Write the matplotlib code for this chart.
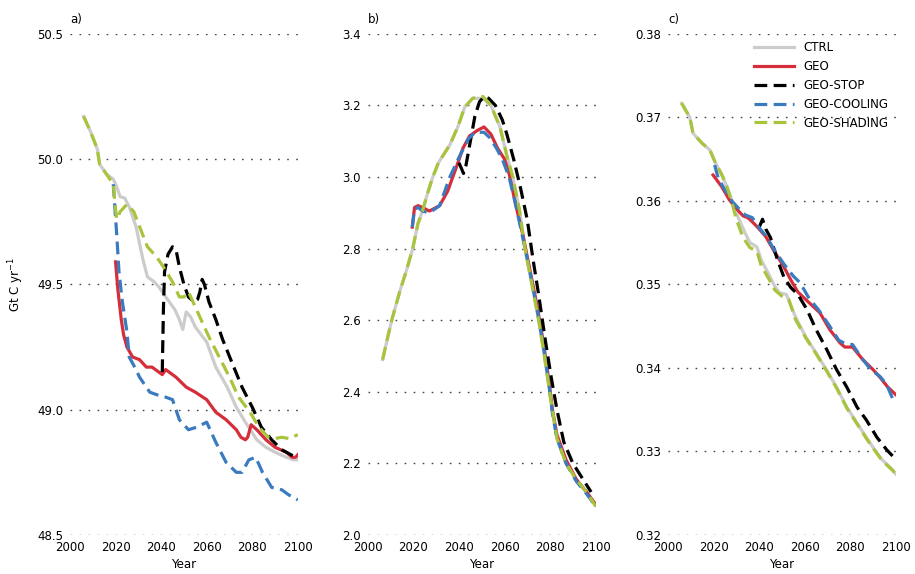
import matplotlib
matplotlib.use('Agg')
import matplotlib.pyplot as plt
import numpy as np

# panel a) values (Gt C / yr)
a_ctrl_yr = [2006, 2009, 2012, 2013, 2016, 2019, 2020.5, 2022, 2024, 2026, 2029, 2032, 2034, 2037, 2039,
             2042, 2046, 2048, 2049.5, 2051, 2053, 2055, 2060, 2064, 2069, 2073, 2077, 2082, 2086, 2090,
             2095, 2098, 2100]
a_ctrl = [50.17, 50.11, 50.04, 49.98, 49.94, 49.92, 49.89, 49.85, 49.845, 49.81, 49.73, 49.60, 49.53, 49.51,
          49.49, 49.45, 49.40, 49.36, 49.32, 49.39, 49.37, 49.33, 49.27, 49.17, 49.09, 49.01, 48.95, 48.88,
          48.85, 48.83, 48.81, 48.80, 48.80]
a_geo_yr = [2020, 2021, 2022.5, 2023.5, 2025, 2027.5, 2030.5, 2033.5, 2036, 2039, 2040.5, 2042, 2046.5, 2051,
            2055, 2060, 2064, 2068.5, 2073, 2075, 2077, 2078, 2079.5, 2082, 2086, 2090, 2095, 2097.5, 2099, 2100]
a_geo = [49.59, 49.48, 49.36, 49.30, 49.25, 49.21, 49.20, 49.17, 49.17, 49.15, 49.14, 49.16, 49.13, 49.09,
         49.07, 49.04, 48.99, 48.96, 48.92, 48.89, 48.88, 48.89, 48.94, 48.92, 48.88, 48.85, 48.83, 48.81,
         48.81, 48.82]
a_stop_yr = [2040.5, 2041, 2041.5, 2043, 2045, 2046.5, 2048, 2050, 2052, 2054.5, 2056, 2057, 2058, 2059, 2061,
             2064, 2067, 2071, 2075.5, 2080, 2084, 2088.5, 2093, 2097, 2099]
a_stop = [49.15, 49.40, 49.55, 49.62, 49.65, 49.64, 49.57, 49.50, 49.45, 49.43, 49.44, 49.47, 49.52, 49.50,
          49.43, 49.36, 49.28, 49.19, 49.09, 49.01, 48.93, 48.88, 48.84, 48.82, 48.81]
a_cool_yr = [2019, 2020.5, 2021.5, 2023, 2025, 2026, 2029, 2030.5, 2035, 2038, 2042, 2045, 2048, 2052, 2055.5,
             2060, 2064, 2068.5, 2073, 2075.5, 2078.5, 2081.5, 2084.5, 2088.5, 2093, 2096, 2100]
a_cool = [49.90, 49.70, 49.55, 49.43, 49.31, 49.21, 49.16, 49.13, 49.07, 49.06, 49.05, 49.04, 48.96, 48.92,
          48.93, 48.95, 48.87, 48.79, 48.75, 48.75, 48.80, 48.81, 48.75, 48.69, 48.68, 48.66, 48.64]
a_shade_yr = [2006, 2009, 2012, 2013, 2016, 2019, 2020, 2020.5, 2022, 2025, 2028, 2031, 2034, 2038, 2041, 2045,
              2048, 2050, 2052, 2054, 2057, 2061, 2065.5, 2070, 2074, 2079, 2083, 2087, 2090, 2093, 2096, 2100]
a_shade = [50.17, 50.11, 50.04, 49.98, 49.94, 49.90, 49.80, 49.76, 49.79, 49.82, 49.79, 49.72, 49.65, 49.61,
           49.57, 49.51, 49.45, 49.45, 49.47, 49.43, 49.37, 49.29, 49.21, 49.13, 49.05, 48.99, 48.93, 48.89,
           48.885, 48.89, 48.885, 48.90]

# panel b)
b_ctrl_yr = [2006.5, 2009, 2010.5, 2014, 2017, 2019.7, 2022, 2024, 2026, 2028.5, 2031, 2033, 2036, 2039.5,
             2042.5, 2046, 2050.5, 2054, 2058, 2061, 2063.6, 2066.5, 2069, 2072, 2075, 2077.5, 2079.8, 2081.5,
             2083, 2087, 2091.5, 2096, 2100]
b_ctrl = [2.49, 2.56, 2.60, 2.68, 2.74, 2.80, 2.87, 2.905, 2.95, 3.00, 3.04, 3.06, 3.09, 3.14, 3.195, 3.22,
          3.22, 3.20, 3.14, 3.06, 3.00, 2.91, 2.80, 2.70, 2.60, 2.50, 2.40, 2.33, 2.27, 2.20, 2.155, 2.12, 2.085]
b_geo_yr = [2019.5, 2020.5, 2022, 2024, 2027, 2031.5, 2035, 2039, 2041.7, 2044.7, 2048, 2051, 2054, 2057, 2060,
            2062, 2065, 2068, 2071, 2074, 2077, 2079.5, 2081, 2083, 2087, 2091.5, 2096, 2100]
b_geo = [2.86, 2.915, 2.92, 2.915, 2.905, 2.92, 2.96, 3.03, 3.08, 3.115, 3.13, 3.14, 3.12, 3.08, 3.05, 3.01,
         2.92, 2.84, 2.745, 2.65, 2.54, 2.43, 2.35, 2.28, 2.21, 2.155, 2.12, 2.085]
b_stop_yr = [2040, 2042, 2043, 2045, 2047, 2049, 2051, 2053, 2056, 2059, 2061, 2064, 2067, 2070, 2072.5, 2075,
             2078, 2080.5, 2083, 2086, 2090, 2095, 2098]
b_stop = [3.04, 3.01, 3.03, 3.10, 3.17, 3.21, 3.225, 3.22, 3.20, 3.16, 3.12, 3.05, 2.97, 2.88, 2.77, 2.67,
          2.54, 2.44, 2.35, 2.26, 2.20, 2.15, 2.12]
b_cool_yr = [2019.5, 2020.5, 2022, 2024, 2027, 2031.5, 2036, 2040.4, 2044, 2047, 2051, 2053.5, 2056.5, 2059,
             2062, 2065, 2068, 2071, 2074, 2077, 2079.5, 2081, 2083, 2087, 2091.5, 2096, 2100]
b_cool = [2.86, 2.91, 2.915, 2.905, 2.90, 2.92, 3.00, 3.06, 3.105, 3.125, 3.125, 3.11, 3.08, 3.05, 3.00, 2.92,
          2.83, 2.74, 2.64, 2.53, 2.42, 2.34, 2.27, 2.20, 2.15, 2.115, 2.08]
b_shade_yr = b_ctrl_yr
b_shade = [2.49, 2.56, 2.60, 2.68, 2.74, 2.80, 2.87, 2.905, 2.95, 3.00, 3.04, 3.06, 3.09, 3.14, 3.195, 3.22,
           3.225, 3.20, 3.14, 3.06, 3.00, 2.91, 2.80, 2.70, 2.60, 2.50, 2.40, 2.33, 2.27, 2.20, 2.155, 2.12, 2.08]

# panel c)
c_ctrl_yr = [2006, 2009.6, 2011, 2015, 2018.4, 2020.6, 2023.7, 2025.9, 2028, 2030.7, 2033.8, 2036, 2039, 2041,
             2043.9, 2047, 2049, 2052, 2056, 2060.5, 2065, 2069.5, 2074, 2078.5, 2083, 2087, 2090, 2094,
             2098.7, 2100]
c_ctrl = [0.3717, 0.3700, 0.3681, 0.3669, 0.3661, 0.3647, 0.3631, 0.3617, 0.3601, 0.3581, 0.3562, 0.3550,
          0.3545, 0.3529, 0.3514, 0.3497, 0.3490, 0.3488, 0.3461, 0.3437, 0.3418, 0.3398, 0.3377, 0.3353,
          0.3334, 0.3317, 0.3305, 0.3290, 0.3278, 0.3273]
c_geo_yr = [2019.8, 2023.6, 2027, 2031.6, 2033, 2035, 2037, 2039.5, 2043, 2047, 2050.5, 2054, 2057, 2062,
            2066.7, 2071, 2075.5, 2077.6, 2081, 2085.5, 2090, 2093, 2096.5, 2100]
c_geo = [0.3631, 0.3617, 0.3601, 0.3586, 0.3582, 0.3580, 0.3575, 0.3568, 0.3557, 0.3538, 0.3523, 0.3505,
         0.3491, 0.3478, 0.3466, 0.3446, 0.3430, 0.3425, 0.3425, 0.3410, 0.3398, 0.3389, 0.3377, 0.3368]
c_stop_yr = [2040, 2041.5, 2043, 2045, 2048, 2051, 2054, 2057, 2061, 2065, 2069.7, 2074, 2078.5, 2083, 2087,
             2091.7, 2096, 2099.5]
c_stop = [0.3568, 0.3578, 0.3566, 0.3556, 0.3530, 0.3508, 0.3496, 0.3488, 0.3470, 0.3446, 0.3422, 0.3398,
          0.3377, 0.3353, 0.3338, 0.3317, 0.3302, 0.3292]
c_cool_yr = [2020.5, 2022, 2025, 2028, 2031, 2034, 2037, 2040, 2043, 2047, 2051, 2055, 2058, 2062, 2066, 2071,
             2075, 2078, 2081, 2085, 2089, 2093, 2096, 2098.5]
c_cool = [0.3643, 0.3628, 0.3613, 0.3600, 0.3591, 0.3583, 0.3580, 0.3568, 0.3558, 0.3540, 0.3524, 0.3510,
          0.3502, 0.3483, 0.3470, 0.3450, 0.3433, 0.3429, 0.3428, 0.3412, 0.3398, 0.3390, 0.3380, 0.3364]
c_shade_yr = [2006, 2009.6, 2011, 2015, 2018.4, 2020.6, 2023.7, 2025.9, 2028, 2030, 2033, 2036, 2039, 2041,
              2044, 2047, 2050, 2053, 2056, 2060.5, 2065, 2069.5, 2074, 2078.5, 2083, 2087, 2090, 2094,
              2098.7, 2100]
c_shade = [0.3717, 0.3700, 0.3681, 0.3669, 0.3661, 0.3647, 0.3631, 0.3617, 0.3599, 0.3578, 0.3556, 0.3544,
           0.3540, 0.3522, 0.3508, 0.3493, 0.3486, 0.3482, 0.3458, 0.3436, 0.3417, 0.3397, 0.3376, 0.3352,
           0.3333, 0.3316, 0.3304, 0.3289, 0.3277, 0.3272]

names = ['CTRL', 'GEO', 'GEO-STOP', 'GEO-COOLING', 'GEO-SHADING']
colors = ['#cccccc', '#d62d3a', '#000000', '#3a7bbf', '#a8c43c']
dashed = [False, False, True, True, True]

panels = [
    ('a)', [(a_ctrl_yr, a_ctrl), (a_geo_yr, a_geo), (a_stop_yr, a_stop), (a_cool_yr, a_cool), (a_shade_yr, a_shade)],
     np.arange(48.5, 50.51, 0.5), '%.1f'),
    ('b)', [(b_ctrl_yr, b_ctrl), (b_geo_yr, b_geo), (b_stop_yr, b_stop), (b_cool_yr, b_cool), (b_shade_yr, b_shade)],
     np.arange(2.0, 3.41, 0.2), '%.1f'),
    ('c)', [(c_ctrl_yr, c_ctrl), (c_geo_yr, c_geo), (c_stop_yr, c_stop), (c_cool_yr, c_cool), (c_shade_yr, c_shade)],
     np.arange(0.32, 0.381, 0.01), '%.2f'),
]

plt.rcParams['font.family'] = 'DejaVu Sans'
plt.rcParams['font.size'] = 8.5

fig = plt.figure(figsize=(9.15, 5.74), dpi=100)
lefts = [0.0765, 0.402, 0.730]
for k, (lab, series, yt, fmt) in enumerate(panels):
    ax = fig.add_axes([lefts[k], 0.068, 0.249, 0.873])
    for (yr, val), nm, col, d in zip(series, names, colors, dashed):
        line, = ax.plot(yr, val, color=col, lw=2.3, label=nm)
        if d:
            line.set_dashes((4, 2))
    ax.set_xlim(2000, 2100)
    ax.set_ylim(yt[0], yt[-1])
    ax.set_yticks(yt)
    ax.set_yticklabels([fmt % v for v in yt])
    ax.set_xticks(np.arange(2000, 2101, 20))
    for s in ax.spines.values():
        s.set_visible(False)
    ax.tick_params(length=0, pad=5)
    ax.tick_params(axis='x', pad=4)
    ax.yaxis.grid(True, color='#444444', lw=1.0, linestyle=(0, (1.2, 5.3)))
    ax.set_axisbelow(True)
    ax.set_xlabel('Year', labelpad=3)
    ax.text(0.0, 1.028, lab, transform=ax.transAxes, ha='left', va='center')
    if k == 0:
        ax.set_ylabel('Gt C yr$^{-1}$', labelpad=8)
    if k == 2:
        ax.legend(loc='upper right', bbox_to_anchor=(1.0, 1.0), frameon=False,
                  handlelength=3.4, labelspacing=0.5, borderaxespad=0.2, fontsize=8.5)

fig.savefig('out.png', dpi=100)
